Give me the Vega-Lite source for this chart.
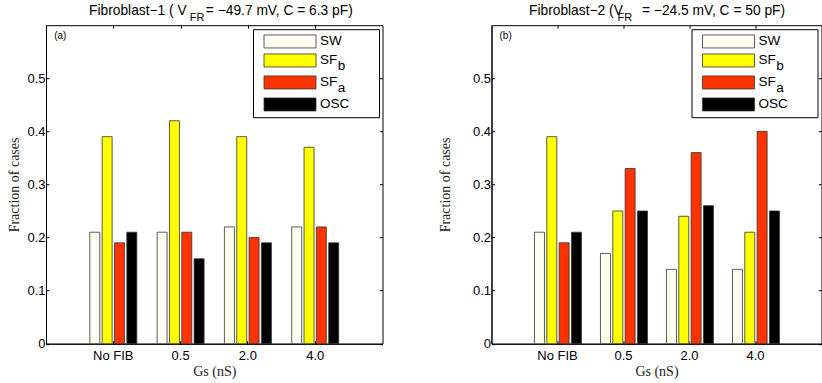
{
  "$schema": "https://vega.github.io/schema/vega-lite/v6.json",
  "padding": {"left": 7, "top": 2.2, "right": 0, "bottom": 0},
  "config": {
    "view": {"stroke": "black", "strokeWidth": 1},
    "style": {"guide-label": {"lineHeight": 6}},
    "axis": {"domainColor": "black", "tickColor": "black", "labelColor": "black", "labelFont": "Liberation Sans", "labelFontSize": 13, "titleFont": "Liberation Serif", "titleFontSize": 14, "titleFontWeight": "normal", "titleColor": "#222", "grid": false, "tickSize": -3, "domainWidth": 1, "tickWidth": 1},
    "title": {"font": "Liberation Sans", "fontSize": 13.8, "fontWeight": "normal", "anchor": "start", "frame": "group", "align": "left", "subtitleFont": "Liberation Sans", "subtitleFontSize": 11, "subtitlePadding": -5, "offset": 1.3, "color": "black", "subtitleColor": "black"}
  },
  "datasets": {
    "fib1": [
      {"gs": "No FIB", "type": "SW", "fraction": 0.21},
      {"gs": "No FIB", "type": "SFb", "fraction": 0.39},
      {"gs": "No FIB", "type": "SFa", "fraction": 0.19},
      {"gs": "No FIB", "type": "OSC", "fraction": 0.21},
      {"gs": "0.5", "type": "SW", "fraction": 0.21},
      {"gs": "0.5", "type": "SFb", "fraction": 0.42},
      {"gs": "0.5", "type": "SFa", "fraction": 0.21},
      {"gs": "0.5", "type": "OSC", "fraction": 0.16},
      {"gs": "2.0", "type": "SW", "fraction": 0.22},
      {"gs": "2.0", "type": "SFb", "fraction": 0.39},
      {"gs": "2.0", "type": "SFa", "fraction": 0.20},
      {"gs": "2.0", "type": "OSC", "fraction": 0.19},
      {"gs": "4.0", "type": "SW", "fraction": 0.22},
      {"gs": "4.0", "type": "SFb", "fraction": 0.37},
      {"gs": "4.0", "type": "SFa", "fraction": 0.22},
      {"gs": "4.0", "type": "OSC", "fraction": 0.19}
    ],
    "fib2": [
      {"gs": "No FIB", "type": "SW", "fraction": 0.21},
      {"gs": "No FIB", "type": "SFb", "fraction": 0.39},
      {"gs": "No FIB", "type": "SFa", "fraction": 0.19},
      {"gs": "No FIB", "type": "OSC", "fraction": 0.21},
      {"gs": "0.5", "type": "SW", "fraction": 0.17},
      {"gs": "0.5", "type": "SFb", "fraction": 0.25},
      {"gs": "0.5", "type": "SFa", "fraction": 0.33},
      {"gs": "0.5", "type": "OSC", "fraction": 0.25},
      {"gs": "2.0", "type": "SW", "fraction": 0.14},
      {"gs": "2.0", "type": "SFb", "fraction": 0.24},
      {"gs": "2.0", "type": "SFa", "fraction": 0.36},
      {"gs": "2.0", "type": "OSC", "fraction": 0.26},
      {"gs": "4.0", "type": "SW", "fraction": 0.14},
      {"gs": "4.0", "type": "SFb", "fraction": 0.21},
      {"gs": "4.0", "type": "SFa", "fraction": 0.40},
      {"gs": "4.0", "type": "OSC", "fraction": 0.25}
    ]
  },
  "spacing": 53.5,
  "resolve": {"scale": {"color": "independent", "x": "independent", "y": "independent"}, "legend": {"color": "independent"}},
  "hconcat": [
    {
      "width": 336.5,
      "height": 318.5,
      "title": {"text": "Fibroblast−1 ( V\u00a0\u00a0\u00a0\u00a0\u00a0= −49.7 mV, C = 6.3 pF)", "subtitle": "\u200b\u00a0\u00a0\u00a0\u00a0\u00a0\u00a0\u00a0\u00a0\u00a0\u00a0\u00a0\u00a0\u00a0\u00a0\u00a0\u00a0\u00a0\u00a0\u00a0\u00a0\u00a0\u00a0\u00a0\u00a0\u00a0\u00a0\u00a0\u00a0\u00a0\u00a0\u00a0\u00a0\u00a0FR", "dx": 43},
      "layer": [
        {
          "data": {"name": "fib1"},
          "mark": {"type": "bar", "stroke": "#333", "strokeWidth": 0.8},
          "encoding": {
            "x": {"field": "gs", "type": "nominal", "sort": ["No FIB", "0.5", "2.0", "4.0"], "scale": {"paddingInner": 0.267, "paddingOuter": 0.6335}, "axis": {"title": "Gs (nS)", "labelAngle": 0, "labelPadding": 9, "titlePadding": 2}},
            "xOffset": {"field": "type", "type": "nominal", "sort": ["SW", "SFb", "SFa", "OSC"], "scale": {"paddingInner": 0.19, "paddingOuter": 0.095}},
            "y": {"field": "fraction", "type": "quantitative", "scale": {"domain": [0, 0.6], "nice": false}, "axis": {"title": "Fraction of cases", "values": [0, 0.1, 0.2, 0.3, 0.4, 0.5], "format": ".1~f", "labelPadding": 4, "titlePadding": 5}},
            "color": {"field": "type", "type": "nominal", "sort": ["SW", "SFb", "SFa", "OSC"], "scale": {"domain": ["SW", "SFb", "SFa", "OSC"], "range": ["#FFFEF0", "#FFFF00", "#FF3300", "#000000"]},
              "legend": {"title": null, "orient": "top-right", "offset": 4, "padding": 3, "strokeColor": "black", "fillColor": "white", "symbolType": "M-4,-1H4V1H-4Z", "symbolSize": 169, "symbolOffset": 27, "labelOffset": 23, "symbolStrokeColor": "#333", "symbolStrokeWidth": 0.8, "symbolOpacity": 1, "labelFont": "Liberation Sans", "labelFontSize": 13.5, "labelColor": "black", "rowPadding": -0.6, "clipHeight": 18.5, "labelBaseline": "middle",
                "labelExpr": "datum.label == 'SFb' ? ['SF', '\u200b\u00a0\u00a0\u00a0\u00a0\u2009b'] : datum.label == 'SFa' ? ['SF', '\u200b\u00a0\u00a0\u00a0\u00a0\u2009a'] : datum.label == 'OSC' ? 'OSC\u00a0\u00a0\u00a0\u00a0\u00a0\u00a0\u00a0\u200b' : datum.label",
                "encoding": {"labels": {"update": {"lineHeight": {"value": 6}}}}}}
          }
        },
        {
          "data": {"values": [{"label": "(a)"}]},
          "mark": {"type": "text", "align": "left", "baseline": "middle", "font": "Liberation Sans", "fontSize": 10, "color": "black"},
          "encoding": {
            "text": {"field": "label"},
            "x": {"datum": 0.122, "type": "quantitative", "scale": {"domain": [0, 5], "nice": false, "zero": false}, "axis": {"orient": "top", "values": [1, 2, 3, 4], "labels": false, "domain": false, "title": null}},
            "y": {"datum": 0.58, "type": "quantitative", "axis": {"orient": "right", "values": [0, 0.1, 0.2, 0.3, 0.4, 0.5], "labels": false, "domain": false, "title": null}}
          }
        }
      ],
      "resolve": {"scale": {"x": "independent"}, "axis": {"x": "independent", "y": "independent"}}
    },
    {
      "width": 330,
      "height": 318.5,
      "title": {"text": "Fibroblast−2 (V\u00a0\u00a0\u00a0\u00a0\u00a0= −24.5 mV, C = 50 pF)", "subtitle": "\u200b\u00a0\u00a0\u00a0\u00a0\u00a0\u00a0\u00a0\u00a0\u00a0\u00a0\u00a0\u00a0\u00a0\u00a0\u00a0\u00a0\u00a0\u00a0\u00a0\u00a0\u00a0\u00a0\u00a0\u00a0\u00a0\u00a0\u00a0\u00a0\u00a0FR", "dx": 37.5},
      "layer": [
        {
          "data": {"name": "fib2"},
          "mark": {"type": "bar", "stroke": "#333", "strokeWidth": 0.8},
          "encoding": {
            "x": {"field": "gs", "type": "nominal", "sort": ["No FIB", "0.5", "2.0", "4.0"], "scale": {"paddingInner": 0.267, "paddingOuter": 0.6335}, "axis": {"title": "Gs (nS)", "labelAngle": 0, "labelPadding": 9, "titlePadding": 2}},
            "xOffset": {"field": "type", "type": "nominal", "sort": ["SW", "SFb", "SFa", "OSC"], "scale": {"paddingInner": 0.19, "paddingOuter": 0.095}},
            "y": {"field": "fraction", "type": "quantitative", "scale": {"domain": [0, 0.6], "nice": false}, "axis": {"title": "Fraction of cases", "values": [0, 0.1, 0.2, 0.3, 0.4, 0.5], "format": ".1~f", "labelPadding": 4, "titlePadding": 20}},
            "color": {"field": "type", "type": "nominal", "sort": ["SW", "SFb", "SFa", "OSC"], "scale": {"domain": ["SW", "SFb", "SFa", "OSC"], "range": ["#FFFEF0", "#FFFF00", "#FF3300", "#000000"]},
              "legend": {"title": null, "orient": "top-right", "offset": 4, "padding": 3, "strokeColor": "black", "fillColor": "white", "symbolType": "M-4,-1H4V1H-4Z", "symbolSize": 169, "symbolOffset": 27, "labelOffset": 23, "symbolStrokeColor": "#333", "symbolStrokeWidth": 0.8, "symbolOpacity": 1, "labelFont": "Liberation Sans", "labelFontSize": 13.5, "labelColor": "black", "rowPadding": -0.6, "clipHeight": 18.5, "labelBaseline": "middle",
                "labelExpr": "datum.label == 'SFb' ? ['SF', '\u200b\u00a0\u00a0\u00a0\u00a0\u2009b'] : datum.label == 'SFa' ? ['SF', '\u200b\u00a0\u00a0\u00a0\u00a0\u2009a'] : datum.label == 'OSC' ? 'OSC\u00a0\u00a0\u00a0\u00a0\u00a0\u00a0\u00a0\u200b' : datum.label",
                "encoding": {"labels": {"update": {"lineHeight": {"value": 6}}}}}}
          }
        },
        {
          "data": {"values": [{"label": "(b)"}]},
          "mark": {"type": "text", "align": "left", "baseline": "middle", "font": "Liberation Sans", "fontSize": 10, "color": "black"},
          "encoding": {
            "text": {"field": "label"},
            "x": {"datum": 0.122, "type": "quantitative", "scale": {"domain": [0, 5], "nice": false, "zero": false}, "axis": {"orient": "top", "values": [1, 2, 3, 4], "labels": false, "domain": false, "title": null}},
            "y": {"datum": 0.58, "type": "quantitative", "axis": {"orient": "right", "values": [0, 0.1, 0.2, 0.3, 0.4, 0.5], "labels": false, "domain": false, "title": null}}
          }
        }
      ],
      "resolve": {"scale": {"x": "independent"}, "axis": {"x": "independent", "y": "independent"}}
    }
  ]
}
